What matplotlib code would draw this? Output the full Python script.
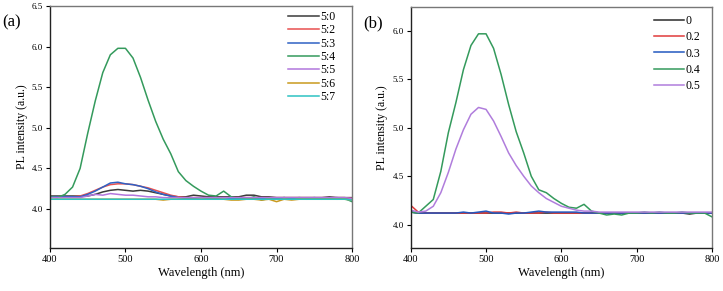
import numpy as np
import matplotlib
matplotlib.use("Agg")
import matplotlib.pyplot as plt

plt.rcParams['font.family'] = ['Liberation Serif', 'DejaVu Serif']

wl = np.arange(400, 801, 10)

# panel (a): ratio series
a_labels = ['5:0', '5:2', '5:3', '5:4', '5:5', '5:6', '5:7']
a_50 = [4.16, 4.16, 4.16, 4.16, 4.16, 4.16, 4.18, 4.21, 4.23, 4.24, 4.23, 4.22, 4.23, 4.22, 4.20,
        4.18, 4.16, 4.15, 4.15, 4.17, 4.16, 4.15, 4.15, 4.15, 4.15, 4.15, 4.17, 4.17, 4.15, 4.15,
        4.14, 4.14, 4.14, 4.14, 4.14, 4.14, 4.14, 4.15, 4.14, 4.14, 4.14]
a_52 = [4.15, 4.15, 4.15, 4.15, 4.16, 4.19, 4.23, 4.27, 4.30, 4.31, 4.31, 4.30, 4.28, 4.26, 4.23,
        4.20, 4.17, 4.15, 4.14, 4.14, 4.14, 4.14, 4.14, 4.14, 4.14, 4.14, 4.14, 4.14, 4.14, 4.14,
        4.14, 4.14, 4.14, 4.14, 4.14, 4.14, 4.14, 4.14, 4.14, 4.14, 4.13]
a_53 = [4.15, 4.15, 4.15, 4.15, 4.15, 4.18, 4.22, 4.27, 4.32, 4.33, 4.31, 4.30, 4.28, 4.25, 4.21,
        4.18, 4.16, 4.14, 4.13, 4.13, 4.14, 4.13, 4.13, 4.14, 4.13, 4.13, 4.13, 4.13, 4.13, 4.13,
        4.13, 4.14, 4.13, 4.14, 4.13, 4.14, 4.13, 4.13, 4.14, 4.13, 4.12]
a_54 = [4.15, 4.14, 4.18, 4.27, 4.50, 4.93, 5.33, 5.68, 5.90, 5.98, 5.98, 5.86, 5.62, 5.34, 5.08,
        4.86, 4.68, 4.46, 4.35, 4.28, 4.22, 4.17, 4.16, 4.22, 4.15, 4.13, 4.12, 4.15, 4.11, 4.13,
        4.12, 4.14, 4.12, 4.13, 4.12, 4.13, 4.12, 4.13, 4.12, 4.13, 4.09]
a_55 = [4.14, 4.14, 4.14, 4.14, 4.14, 4.16, 4.18, 4.17, 4.19, 4.18, 4.17, 4.17, 4.16, 4.15, 4.15,
        4.14, 4.14, 4.14, 4.14, 4.14, 4.14, 4.14, 4.14, 4.14, 4.14, 4.14, 4.14, 4.14, 4.14, 4.14,
        4.14, 4.14, 4.14, 4.14, 4.14, 4.14, 4.14, 4.14, 4.14, 4.14, 4.13]
a_56 = [4.12, 4.12, 4.12, 4.12, 4.12, 4.12, 4.12, 4.12, 4.12, 4.12, 4.12, 4.12, 4.12, 4.12, 4.12,
        4.11, 4.12, 4.12, 4.12, 4.12, 4.12, 4.12, 4.12, 4.12, 4.11, 4.11, 4.12, 4.12, 4.11, 4.12,
        4.09, 4.12, 4.11, 4.12, 4.12, 4.12, 4.12, 4.12, 4.12, 4.12, 4.11]
a_57 = [4.12, 4.12, 4.12, 4.12, 4.12, 4.12, 4.12, 4.12, 4.12, 4.12, 4.12, 4.12, 4.12, 4.12, 4.12,
        4.12, 4.12, 4.12, 4.12, 4.12, 4.12, 4.12, 4.12, 4.12, 4.12, 4.12, 4.12, 4.12, 4.12, 4.12,
        4.12, 4.12, 4.12, 4.12, 4.12, 4.12, 4.12, 4.12, 4.12, 4.12, 4.11]
a_series = [a_50, a_52, a_53, a_54, a_55, a_56, a_57]
a_colors = ['#3a3a3a', '#e8504f', '#2f62c4', '#349a5c', '#b276dd', '#c99a1e', '#2ec2c2']

# panel (b): content series
b_labels = ['0', '0.2', '0.3', '0.4', '0.5']
b_0 = [4.13, 4.12, 4.12, 4.12, 4.12, 4.12, 4.12, 4.12, 4.12, 4.12, 4.12, 4.12, 4.12, 4.12, 4.12,
       4.12, 4.12, 4.12, 4.12, 4.12, 4.12, 4.12, 4.12, 4.12, 4.12, 4.12, 4.12, 4.12, 4.12, 4.12,
       4.12, 4.12, 4.12, 4.12, 4.12, 4.12, 4.12, 4.11, 4.12, 4.12, 4.12]
b_2 = [4.20, 4.13, 4.12, 4.12, 4.12, 4.12, 4.12, 4.12, 4.12, 4.12, 4.12, 4.13, 4.13, 4.12, 4.13,
       4.12, 4.12, 4.12, 4.13, 4.12, 4.12, 4.12, 4.12, 4.12, 4.12, 4.12, 4.12, 4.12, 4.12, 4.12,
       4.12, 4.12, 4.12, 4.12, 4.12, 4.12, 4.12, 4.12, 4.12, 4.12, 4.12]
b_3 = [4.13, 4.12, 4.12, 4.12, 4.12, 4.12, 4.12, 4.13, 4.12, 4.13, 4.14, 4.12, 4.12, 4.11, 4.12,
       4.12, 4.13, 4.14, 4.13, 4.13, 4.13, 4.13, 4.13, 4.12, 4.12, 4.12, 4.12, 4.12, 4.12, 4.12,
       4.12, 4.12, 4.12, 4.12, 4.12, 4.12, 4.12, 4.12, 4.12, 4.12, 4.12]
b_4 = [4.13, 4.12, 4.19, 4.26, 4.55, 4.95, 5.26, 5.60, 5.85, 5.97, 5.97, 5.82, 5.55, 5.24, 4.96,
       4.74, 4.50, 4.36, 4.33, 4.27, 4.22, 4.18, 4.17, 4.21, 4.14, 4.12, 4.10, 4.11, 4.10, 4.12,
       4.12, 4.13, 4.12, 4.13, 4.12, 4.12, 4.13, 4.12, 4.12, 4.12, 4.08]
b_5 = [4.15, 4.13, 4.14, 4.19, 4.33, 4.54, 4.78, 4.98, 5.14, 5.21, 5.19, 5.07, 4.91, 4.74, 4.61,
       4.50, 4.40, 4.33, 4.27, 4.23, 4.19, 4.17, 4.15, 4.14, 4.14, 4.13, 4.13, 4.13, 4.13, 4.13,
       4.13, 4.13, 4.13, 4.13, 4.13, 4.13, 4.13, 4.13, 4.13, 4.13, 4.13]
b_series = [b_0, b_2, b_3, b_4, b_5]
b_colors = ['#2a2a2a', '#e03a3a', '#2358c0', '#349a5c', '#b07ddc']

fig = plt.figure(figsize=(7.23, 2.91), dpi=100)
ax1 = fig.add_axes([0.069, 0.148, 0.418, 0.831])
ax2 = fig.add_axes([0.568, 0.148, 0.417, 0.829])


def style(ax, ylim, yticks, spacing, anchor):
    ax.set_xlim(400, 800)
    ax.set_ylim(*ylim)
    ax.set_xticks([400, 500, 600, 700, 800])
    ax.set_yticks(yticks)
    ax.yaxis.set_major_formatter(matplotlib.ticker.FormatStrFormatter('%.1f'))
    ax.tick_params(axis='x', direction='out', length=3, width=0.8, labelsize=7.5, pad=2)
    ax.tick_params(axis='y', direction='out', length=3, width=0.8, labelsize=6.5, pad=2)
    for s in ax.spines.values():
        s.set_linewidth(1.0)
        s.set_color('#222222')
    for s in ['top', 'right']:
        ax.spines[s].set_color('#777777')
    ax.set_xlabel('Wavelength (nm)', fontsize=9, labelpad=2)
    ax.set_ylabel('PL intensity (a.u.)', fontsize=8.5, labelpad=3)
    ax.legend(loc='upper right', bbox_to_anchor=anchor, frameon=False, fontsize=8.5,
              handlelength=2.6, handletextpad=0.1, labelspacing=spacing, borderaxespad=0)


for ys, lab, c in zip(a_series, a_labels, a_colors):
    ax1.plot(wl, ys, color=c, lw=1.1, label=lab)
style(ax1, (3.52, 6.5), [4.0, 4.5, 5.0, 5.5, 6.0, 6.5], 0.12, (0.96, 1.0))

for ys, lab, c in zip(b_series, b_labels, b_colors):
    ax2.plot(wl, ys, color=c, lw=1.1, label=lab)
style(ax2, (3.76, 6.25), [4.0, 4.5, 5.0, 5.5, 6.0], 0.36, (0.977, 0.985))

fig.text(0.003, 0.91, '(a)', fontsize=12)
fig.text(0.503, 0.905, '(b)', fontsize=12)

fig.savefig('out.png', dpi=100)
